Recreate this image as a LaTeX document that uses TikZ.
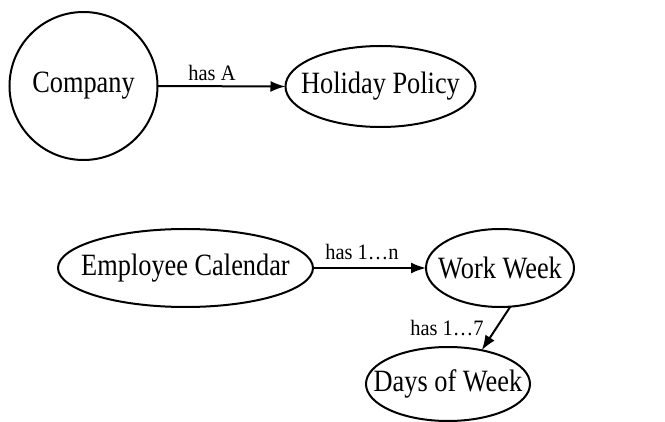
\documentclass[tikz,border=0pt]{standalone}
\usepackage{fontspec}
\setmainfont{Liberation Serif}[FakeStretch=0.85]
\newfontfamily\lblfont{Liberation Serif}[FakeStretch=0.93]
\usetikzlibrary{shapes.geometric,arrows.meta}
\begin{document}
\begin{tikzpicture}[x=1pt,y=1pt,
  shapebox/.style={draw,line width=2pt,inner sep=0pt,outer sep=0pt},
  circbox/.style={shapebox,circle,minimum size=#1},
  ellbox/.style 2 args={shapebox,ellipse,minimum width=#1,minimum height=#2},
  nodetext/.style={inner sep=0pt,font=\fontsize{31}{31}\selectfont},
  edgetext/.style={inner sep=0pt,font=\lblfont\fontsize{22}{22}\selectfont},
  conn/.style={line width=2pt,-{Latex[length=15pt,width=11pt]}}]
\useasboundingbox (0,0) rectangle (665,-422);
% nodes
\node[circbox=148] (comp) at (83.5,-86) {};
\node[nodetext] (compt) at (comp) {Company};
\node[ellbox={190}{81}] (hol) at (380.5,-86.5) {};
\node[nodetext] (holt) at (hol) {Holiday Policy};
\node[ellbox={255}{78}] (emp) at (185.5,-268) {};
\node[nodetext] (empt) at (emp) {Employee Calendar};
\node[ellbox={148}{78}] (ww) at (500,-268) {};
\node[nodetext] (wwt) at (ww) {Work Week};
\node[ellbox={164}{74}] (dw) at (448,-384) {};
\node[nodetext] (dwt) at (dw) {Days of Week};
% edges
\draw[conn] (comp.east) -- (hol.west);
\draw[conn] (emp.east) -- (ww.west);
\draw[conn] (ww.-75) -- (dw.45);
% labels
\node[edgetext] (l1) at (212,-73) {has A};
\node[edgetext] (l2) at (362,-252) {has 1…n};
\node[edgetext] (l3) at (447,-328) {has 1…7};
\end{tikzpicture}
\end{document}
